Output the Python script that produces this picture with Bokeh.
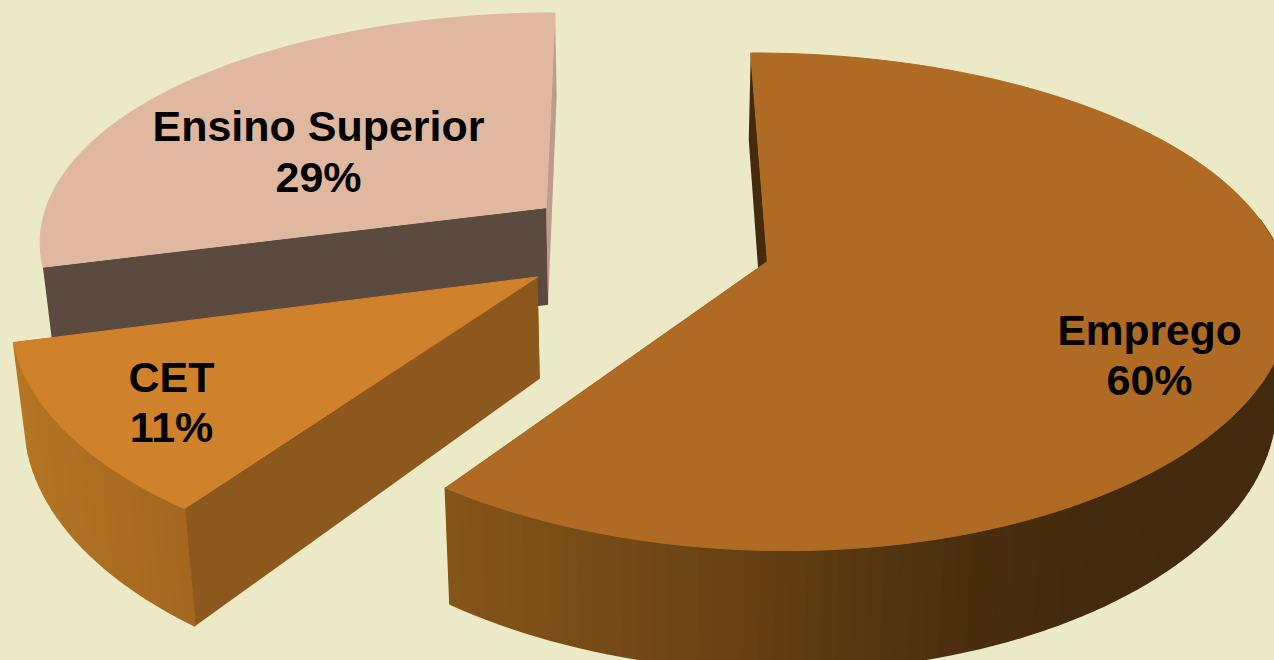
import numpy as np
from bokeh.plotting import figure
from bokeh.models import Range1d, ColumnDataSource
from bokeh.core.properties import value
from bokeh.embed import file_html
from bokeh.resources import INLINE

# ---- data
categories = ["Emprego", "CET", "Ensino Superior"]
values = [60, 11, 29]
percent_labels = ["60%", "11%", "29%"]

# ---- style / projection
BG = "#EBE9C6"
TOP = ["#AF6A23", "#D0812B", "#E0B8A0"]
FACE_START = ["#452B0E", "#8C581D", "#5B4A40"]
FACE_END = ["#452B0E", "#8C581D", "#BD9D8A"]
WALL_STOPS = [
    ([430, 620, 800, 960, 1080], ["#88551A", "#744A16", "#5E3C12", "#4A2E0E", "#442B0D"]),
    ([0, 60, 190], ["#B87A26", "#B07222", "#A46720"]),
    None,
]
LABEL_POS = [(1149, 330, 379), (171, 376, 426), (318, 125, 176)]
LABEL_SIZE = ["42.5px", "43px", "43px"]

CX, CY, SX0, SY0, K, PX, PY, EXPLODE, DROP, DEPTH = 644.4, 242.5, 510.0, 505.0, 0.468, 0.131, 0.16, 0.25, 0.197, 0.021
ROT = np.radians(-0.3)


def project(X, Y, low=False):
    X, Y = np.asarray(X, float), np.asarray(Y, float)
    shrink = DEPTH if low else 0.0
    sx = SX0 / (1 + PX * Y + shrink)
    sy = SY0 / (1 + PY * Y)
    return CX + sx * X, CY - sy * K * Y + (sy * DROP if low else 0.0)


def hex2rgb(h):
    return np.array([int(h[i:i + 2], 16) for i in (1, 3, 5)], float)


def shade(stops, x):
    xs, cols = stops
    rgb = np.array([hex2rgb(c) for c in cols])
    return "#%02x%02x%02x" % tuple(int(round(np.interp(x, xs, rgb[:, i]))) for i in range(3))


p = figure(width=1274, height=660, x_range=Range1d(0, 1274), y_range=Range1d(660, 0),
           output_backend="svg", toolbar_location=None, min_border=0,
           background_fill_color=BG, border_fill_color=BG, outline_line_color=None)
p.axis.visible = False
p.grid.visible = False

total = float(sum(values))
edges = np.concatenate([[0.0], np.cumsum(values)]) / total * 2 * np.pi

slices = []
for i in range(len(values)):
    a0, a1 = edges[i], edges[i + 1]
    mid = (a0 + a1) / 2
    ox, oy = EXPLODE * np.sin(mid), EXPLODE * np.cos(mid)
    slices.append((i, a0 + ROT, a1 + ROT, ox, oy))

for i, a0, a1, ox, oy in [slices[2], slices[1], slices[0]]:
    ang = np.linspace(a0, a1, max(8, int(np.degrees(a1 - a0) / 1.5)))
    rx, ry = ox + np.sin(ang), oy + np.cos(ang)
    tx, ty = project(rx, ry)
    bx, by = project(rx, ry, low=True)
    ax, ay = project(ox, oy)
    alx, aly = project(ox, oy, low=True)

    # flat cut faces: the paler, narrow one first so the dark one sits over it
    p.patch([ax, tx[-1], bx[-1], alx], [ay, ty[-1], by[-1], aly], fill_color=FACE_END[i],
            line_color=None)
    p.patch([ax, tx[0], bx[0], alx], [ay, ty[0], by[0], aly], fill_color=FACE_START[i],
            line_color=None)

    # outer curved wall (front-facing part only), shaded across
    if WALL_STOPS[i] is not None:
        xs, ys, cs = [], [], []
        for j in range(len(ang) - 1):
            if np.cos(ang[j]) > 0.2:
                continue
            xs.append([tx[j], tx[j + 1], bx[j + 1], bx[j]])
            ys.append([ty[j], ty[j + 1], by[j + 1], by[j]])
            cs.append(shade(WALL_STOPS[i], (bx[j] + bx[j + 1]) / 2))
        p.patches(xs, ys, fill_color=cs, line_color=cs, line_width=1.5)

    # top face
    p.patch(np.r_[ax, tx], np.r_[ay, ty], fill_color=TOP[i], line_color=TOP[i], line_width=1)

# labels
src = ColumnDataSource(dict(
    x=[q[0] for q in LABEL_POS] * 2,
    y=[q[1] for q in LABEL_POS] + [q[2] for q in LABEL_POS],
    text=categories + percent_labels,
    size=LABEL_SIZE + ["43px"] * 3,
))
p.text("x", "y", text="text", source=src, text_align="center", text_baseline="middle",
       text_font=value("Liberation Sans"), text_font_style="bold", text_font_size="size",
       text_color="#000000")

html = file_html(p, INLINE)
html = html.replace("<head>", "<head><style>html,body{margin:0;padding:0;background:%s;overflow:hidden}</style>" % BG, 1)
open("out.html", "w").write(html)
